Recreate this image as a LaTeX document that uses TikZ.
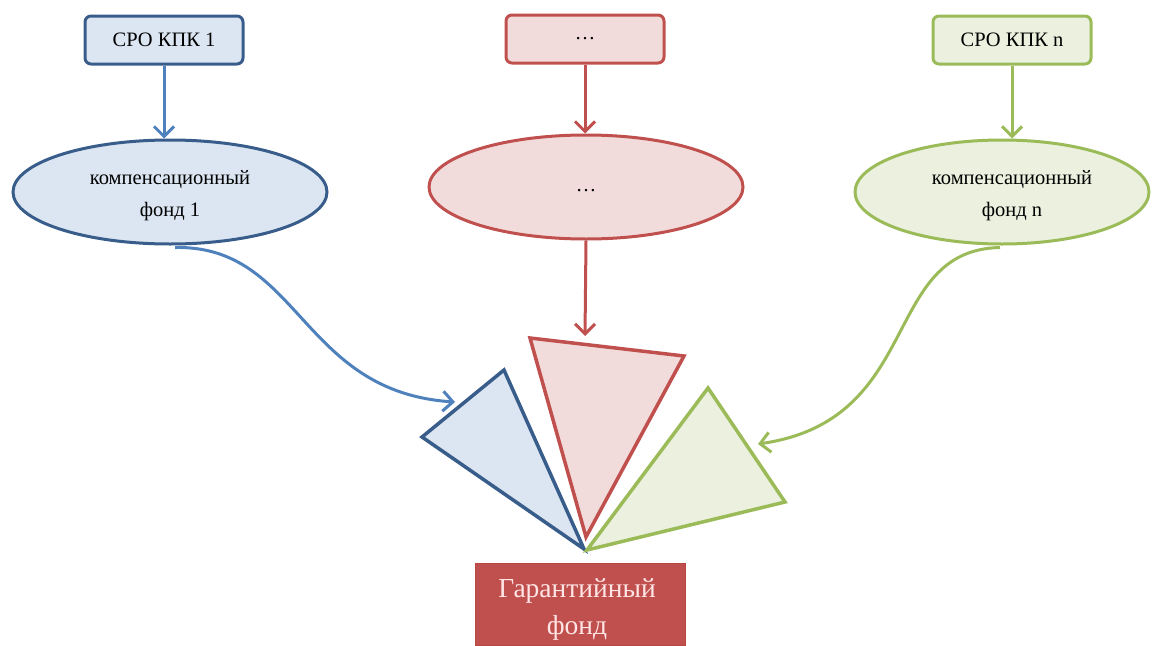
\documentclass[tikz,border=0pt]{standalone}
\usepackage{fontspec}
\setmainfont{Liberation Serif}
\usetikzlibrary{shapes.geometric,arrows.meta}
\definecolor{bdark}{HTML}{385D8A}
\definecolor{bline}{HTML}{4F81BD}
\definecolor{bfill}{HTML}{DCE6F2}
\definecolor{rline}{HTML}{C0504D}
\definecolor{rdark}{HTML}{B84744}
\definecolor{rfill}{HTML}{F2DCDB}
\definecolor{gline}{HTML}{9BBB59}
\definecolor{gfill}{HTML}{EBF1DE}
\tikzset{
  topbox/.style={draw, rounded corners=6pt, line width=3pt, minimum width=158pt, minimum height=48pt, font=\fontsize{20.5}{24}\selectfont},
  fund/.style={ellipse, line width=3pt, minimum width=314pt, minimum height=104pt, align=center, inner sep=0pt, font=\fontsize{20.5}{32}\selectfont},
  arr/.style={line width=3pt, -{Straight Barb[length=10pt,width=20pt,line width=3pt]}},
  tri/.style={line width=3.5pt, line join=miter},
}
\begin{document}
\begin{tikzpicture}[x=1pt,y=-1pt]
\useasboundingbox (0,0) rectangle (1164,645);
% top boxes
\node[topbox, draw=bdark, fill=bfill] (b1) at (164,40) {СРО КПК 1};
\node[topbox, draw=rline, fill=rfill] (b2) at (585,39) {\ldots};
\node[topbox, draw=gline, fill=gfill] (b3) at (1012,40) {СРО КПК n};
% ellipses
\node[fund, draw=bdark, fill=bfill] (e1) at (170,192) {};
\node[fund, draw=rline, fill=rfill] (e2) at (586,187) {};
\node[fund, draw=gline, fill=gfill, minimum width=294pt] (e3) at (1002,192) {};
\node[align=center, inner sep=0pt, font=\fontsize{20.5}{32}\selectfont] (e1t) at (170,196) {компенсационный\\фонд 1};
\node[inner sep=0pt, font=\fontsize{20.5}{32}\selectfont] (e2t) at (586,191) {\ldots};
\node[align=center, inner sep=0pt, font=\fontsize{20.5}{32}\selectfont] (e3t) at (1012,196) {компенсационный\\фонд n};
% triangles
\coordinate (t1a) at (422,437);
\coordinate (t1b) at (504,370);
\coordinate (t1c) at (584,549);
\coordinate (t2a) at (530,338);
\coordinate (t2b) at (684,356);
\coordinate (t2c) at (586,537);
\coordinate (t3a) at (708,388);
\coordinate (t3b) at (785,502);
\coordinate (t3c) at (587,550);
\draw[tri, draw=bdark, fill=bfill] (t1a) -- (t1b) -- (t1c) -- cycle;
\draw[tri, draw=rline, fill=rfill] (t2a) -- (t2b) -- (t2c) -- cycle;
\draw[tri, draw=gline, fill=gfill] (t3a) -- (t3b) -- (t3c) -- cycle;
% guarantee fund
\node[draw=rdark, fill=rline, line width=1pt, minimum width=210pt, minimum height=82pt] (gf) at (580,604) {};
\node[align=center, inner sep=0pt, text=white!90!red, font=\fontsize{27.5}{37}\selectfont] (gft) at (577,610) {Гарантийный\\фонд};
% arrows
\draw[arr, draw=bline] (b1) -- (b1 |- e1.north);
\draw[arr, draw=rline] (b2) -- (b2 |- e2.north);
\draw[arr, draw=gline] (b3) -- (b3 |- e3.north);
\coordinate (a1) at (455,402);
\coordinate (a2) at (585,336);
\coordinate (a3) at (758,444);
\draw[arr, draw=bline] (e1.south) ++(5,2) .. controls (300,245) and (300,392) .. (a1);
\draw[arr, draw=rline] (e2.south) -- (a2);
\draw[arr, draw=gline] (e3.south) ++(-2,2) .. controls (880,250) and (925,420) .. (a3);
\end{tikzpicture}
\end{document}
